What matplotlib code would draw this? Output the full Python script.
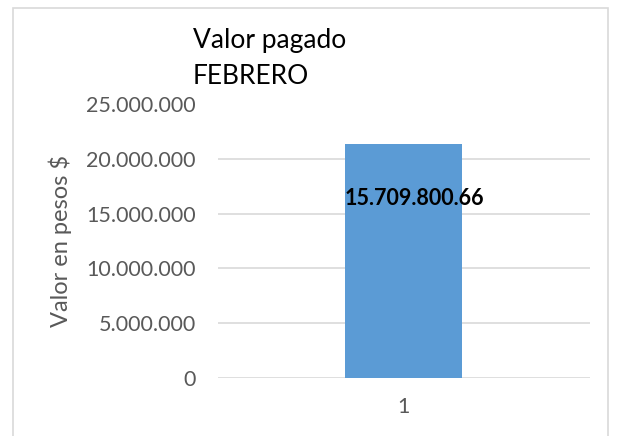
import numpy as np
import matplotlib.pyplot as plt

# datos
categorias = [1]
valores = [21400000]
etiqueta_valor = ['15.709.800.66']
ticks_y = [0, 5000000, 10000000, 15000000, 20000000, 25000000]
ticks_y_txt = ['0', '5.000.000', '10.000.000', '15.000.000', '20.000.000', '25.000.000']
titulo = ['Valor pagado', 'FEBRERO']

plt.rcParams['font.family'] = ['Lato', 'DejaVu Sans']

fig = plt.figure(figsize=(6.17, 4.36), dpi=100)
ax = fig.add_axes([0.353, 0.133, 0.603, 0.628])

ax.bar(categorias, valores, width=0.315, color='#5B9BD5', zorder=3)
ax.set_xlim(0.5, 1.5)
ax.set_ylim(0, 25000000)
ax.set_xticks(categorias)
ax.set_xticklabels([str(c) for c in categorias])
ax.set_yticks(ticks_y)
ax.set_yticklabels(ticks_y_txt)

ax.yaxis.grid(True, color='#D9D9D9', lw=1.2, zorder=0)
ax.yaxis.get_gridlines()[-1].set_visible(False)
for s in ax.spines.values():
    s.set_visible(False)
ax.tick_params(length=0, colors='#595959', labelsize=15.5, pad=16)
ax.tick_params(axis='x', pad=14)

ax.set_ylabel('Valor en pesos $', fontsize=17, color='#595959', labelpad=10)

for c, v, t in zip(categorias, valores, etiqueta_valor):
    ax.text(c - 0.16, 16400000, t, ha='left', va='center', fontsize=15.5,
            fontweight='bold', color='black', zorder=4)

# titulo en dos lineas
fig.text(0.313, 0.890, titulo[0], fontsize=19, color='black', ha='left', va='baseline')
fig.text(0.313, 0.807, titulo[1], fontsize=19, color='black', ha='left', va='baseline')

# borde del grafico
fig.add_artist(plt.Rectangle((0.021, -0.05), 0.965, 1.032, transform=fig.transFigure,
                             fill=False, edgecolor='#D9D9D9', lw=1.2))

fig.savefig('out.png', dpi=100)
